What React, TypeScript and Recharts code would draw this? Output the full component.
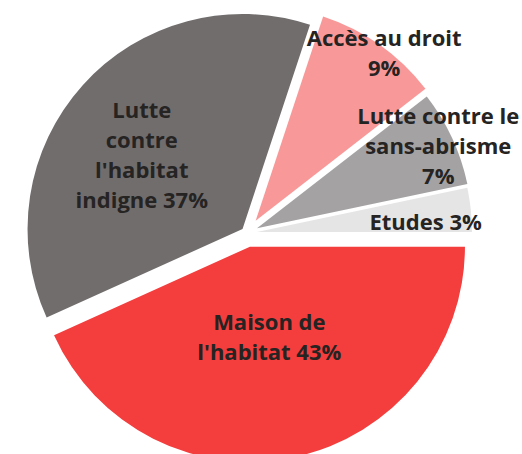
import React from "react";
import { PieChart, Pie, Cell } from "recharts";

const categories = [
  "Maison de l'habitat",
  "Lutte contre l'habitat indigne",
  "Accès au droit",
  "Lutte contre le sans-abrisme",
  "Etudes",
];
// shares (labels show them rounded)
const values = [43.2, 36.8, 9.4, 7.2, 3.3];
const colors = ["#f43d3d", "#716d6d", "#f99898", "#a4a2a2", "#e6e5e5"];
// how each label is broken into lines, {p} = percentage
const labelLines = [
  ["Maison de", "l'habitat {p}"],
  ["Lutte", "contre", "l'habitat", "indigne {p}"],
  ["Accès au droit", "{p}"],
  ["Lutte contre le", "sans-abrisme", "{p}"],
  ["Etudes {p}"],
];

// layout (not data): explode distance, label radius and angle shift per slice
const explode = [14, 6, 15, 11, 10];
const labelRadius = [92, 125, 211, 199, 169];
const labelShift = [0, 5.7, -2.3, -0.5, -2.5];

const W = 522;
const H = 454;
const CX = 247;
const CY = 233;
const R = 215;
const RAD = Math.PI / 180;

const total = values.reduce((a, b) => a + b, 0);

export default function App() {
  let acc = 0;
  const slices = values.map((v, i) => {
    const start = -(acc / total) * 360;
    acc += v;
    const end = -(acc / total) * 360;
    const mid = (start + end) / 2;
    return {
      i,
      start,
      end,
      cx: CX + explode[i] * Math.cos(mid * RAD),
      cy: CY - explode[i] * Math.sin(mid * RAD),
      data: [{ name: categories[i], value: v }],
    };
  });

  const renderLabel = (i: number) => (props: any) => {
    const ang = (props.midAngle + labelShift[i]) * RAD;
    const x = props.cx + labelRadius[i] * Math.cos(ang);
    const y = props.cy - labelRadius[i] * Math.sin(ang);
    const lines = labelLines[i].map((l) => l.replace("{p}", `${Math.round(values[i])}%`));
    const lh = 30;
    return (
      <text
        key={`lbl-${i}`}
        textAnchor="middle"
        fill="#262323"
        fontFamily="'Open Sans', sans-serif"
        fontWeight={700}
        fontSize={22}
      >
        {lines.map((l, k) => (
          <tspan key={k} x={x} y={y + (k - (lines.length - 1) / 2) * lh} dy="0.36em">
            {l}
          </tspan>
        ))}
      </text>
    );
  };

  return (
    <div style={{ position: "absolute", left: 0, top: 0, background: "#fff" }}>
      <PieChart width={W} height={H} margin={{ top: 0, right: 0, bottom: 0, left: 0 }}>
        {slices.map((s) => (
          <Pie
            key={s.i}
            data={s.data}
            dataKey="value"
            nameKey="name"
            cx={s.cx}
            cy={s.cy}
            outerRadius={R}
            startAngle={s.start}
            endAngle={s.end}
            stroke="none"
            labelLine={false}
            label={renderLabel(s.i)}
            isAnimationActive={false}
          >
            <Cell fill={colors[s.i]} />
          </Pie>
        ))}
      </PieChart>
    </div>
  );
}
